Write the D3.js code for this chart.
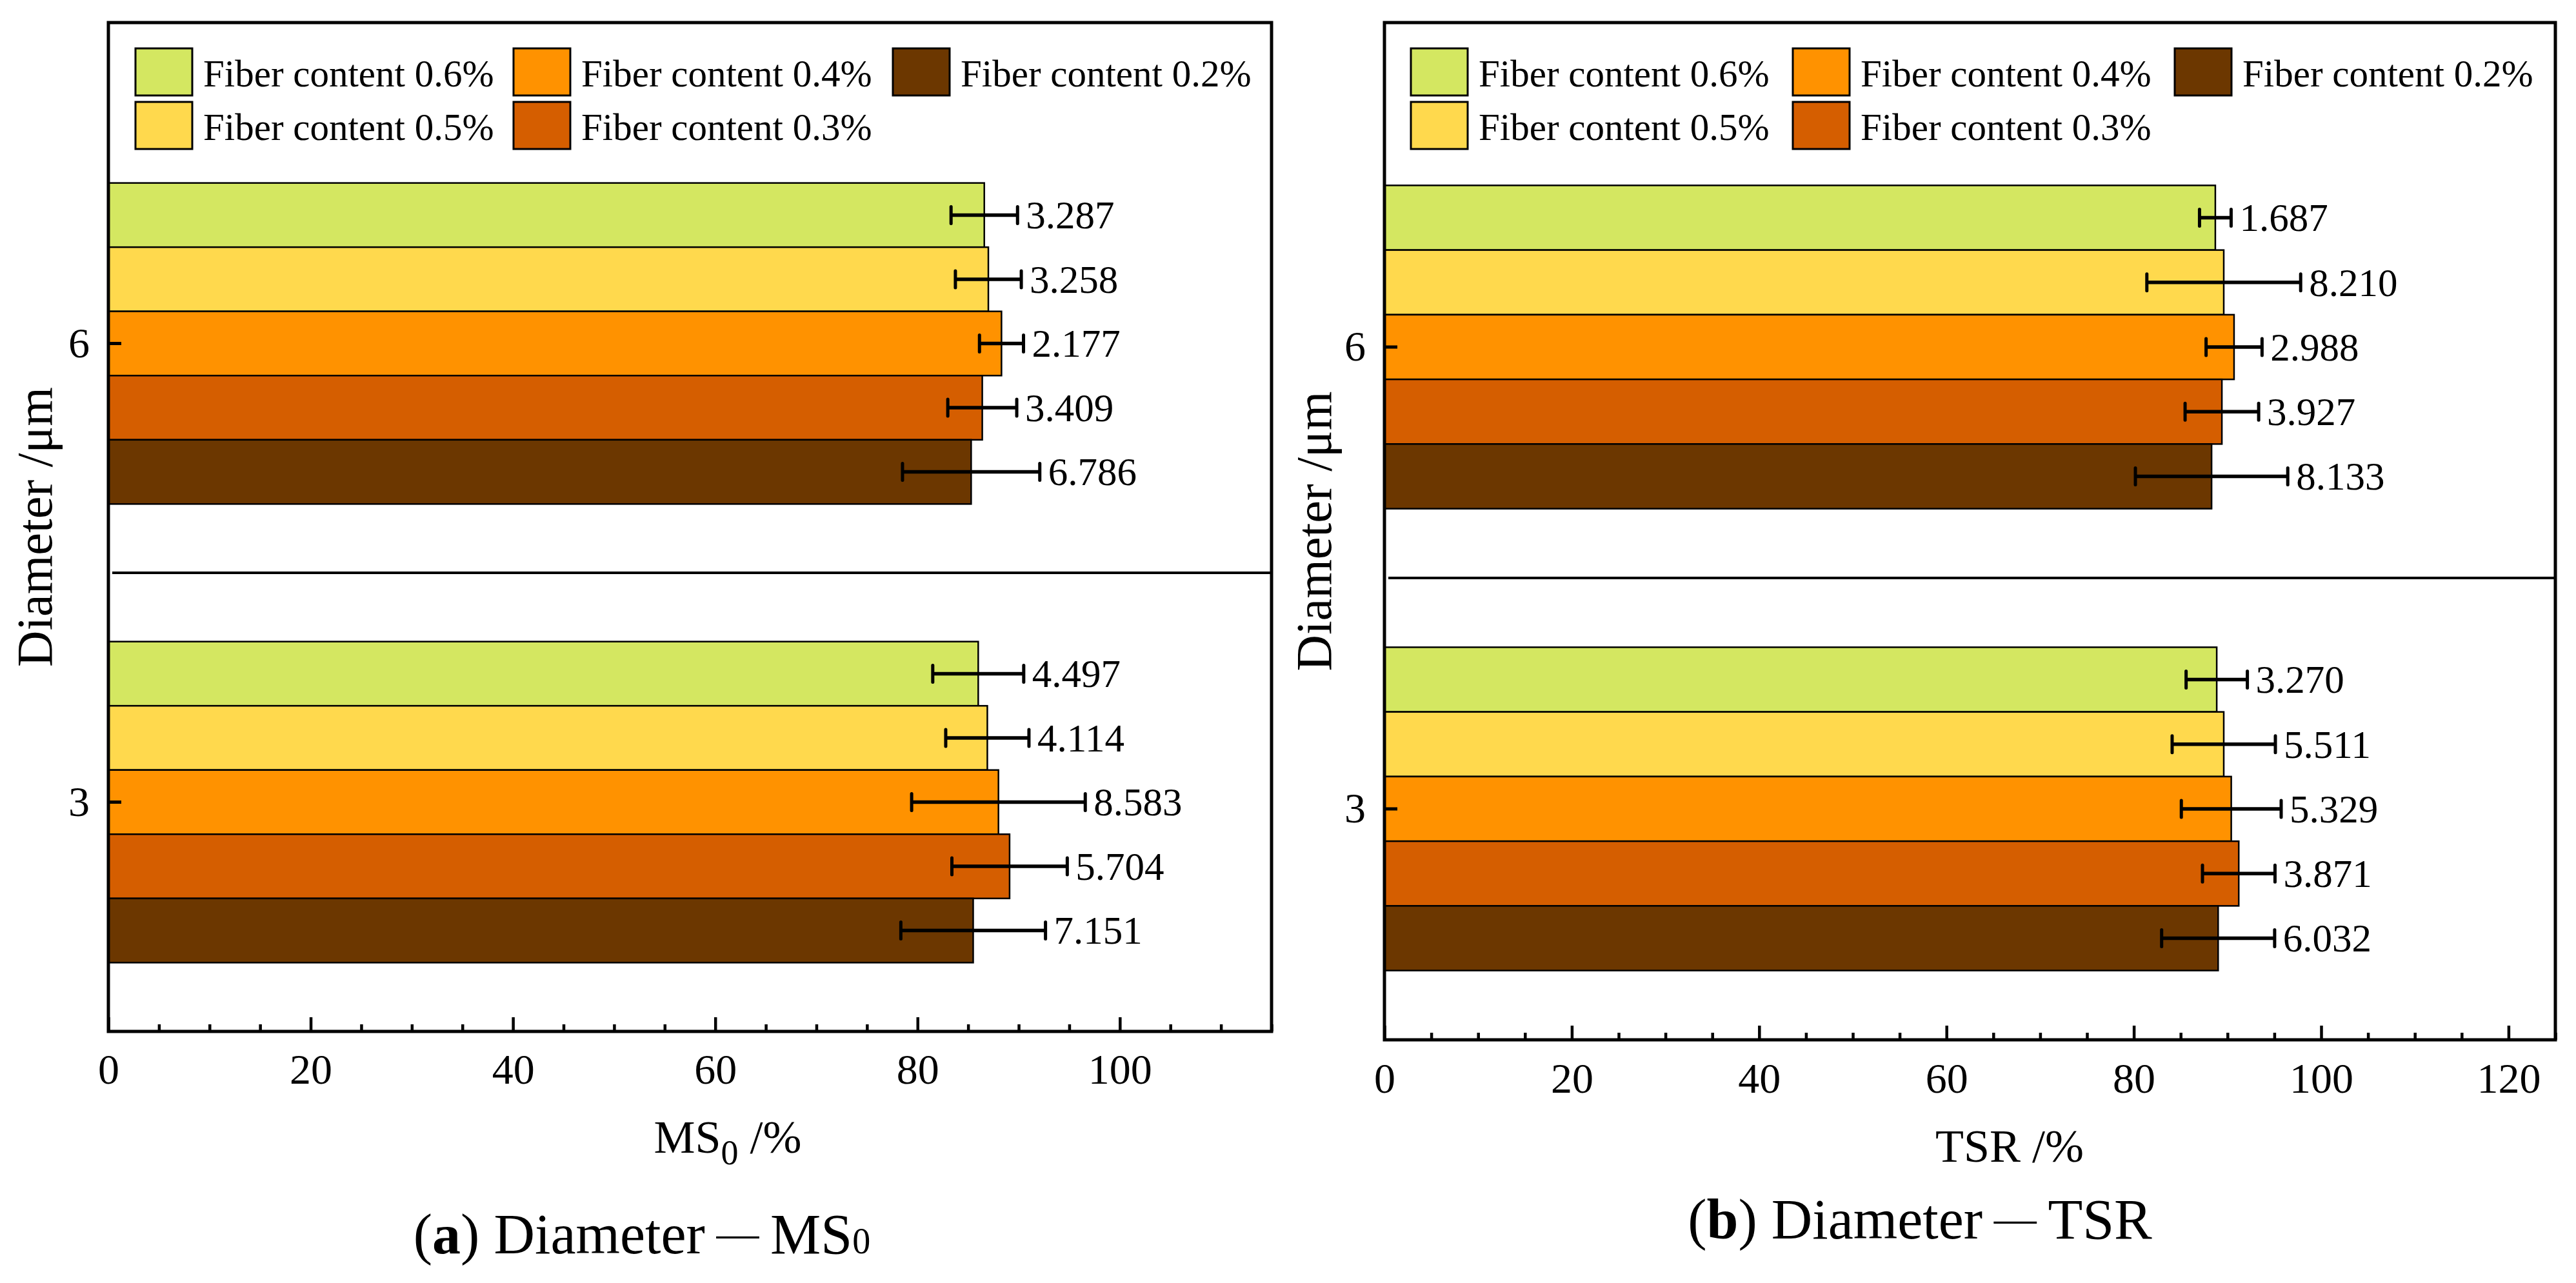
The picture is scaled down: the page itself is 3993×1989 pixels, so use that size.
<!DOCTYPE html>
<html>
<head>
<meta charset="utf-8">
<script src="https://cdn.jsdelivr.net/npm/d3@7"></script>
<style>
  body { margin: 0; background: #fff; }
  svg text { font-family: "Liberation Serif", "Times New Roman", serif; fill: #000; }
</style>
</head>
<body>
<svg id="chart" width="3993" height="1989"></svg>
<script>
const SERIF = '"Liberation Serif", "Times New Roman", serif';

// categories (top group first, like the picture)
const diameters = ["6", "3"];
const fiberLabels = [
  "Fiber content 0.6%",
  "Fiber content 0.5%",
  "Fiber content 0.4%",
  "Fiber content 0.3%",
  "Fiber content 0.2%",
];
const fiberColors = ["#d4e761", "#ffd94d", "#ff9200", "#d55e00", "#6c3700"];

// MS0 (%) means and std dev, per diameter
const ms0Mean6 = [86.6, 87.0, 88.3, 86.4, 85.3];
const ms0Sd6 = [3.287, 3.258, 2.177, 3.409, 6.786];
const ms0Mean3 = [86.0, 86.9, 88.0, 89.1, 85.5];
const ms0Sd3 = [4.497, 4.114, 8.583, 5.704, 7.151];

// TSR (%) means and std dev, per diameter
const tsrMean6 = [88.7, 89.6, 90.7, 89.4, 88.3];
const tsrSd6 = [1.687, 8.21, 2.988, 3.927, 8.133];
const tsrMean3 = [88.85, 89.6, 90.4, 91.2, 89.0];
const tsrSd3 = [3.27, 5.511, 5.329, 3.871, 6.032];

// tick labels
const ms0Ticks = [0, 20, 40, 60, 80, 100];
const tsrTicks = [0, 20, 40, 60, 80, 100, 120];

class BarPanel {
  /**
   * @param {Object} layout
   * @param {Object} data  means / sds keyed by diameter
   */
  constructor(_config, _data) {
    this.config = _config;
    this.data = _data;
    this.initVis();
  }

  initVis() {
    let vis = this;
    const c = vis.config;
    vis.svg = d3.select("#chart").append("g");

    vis.x = d3.scaleLinear().domain([0, c.xMax]).range([c.left, c.right]);

    // two category bands; the lower band ends at the axis, the boundary is the divider line
    const bandH = c.bottom - c.divider;
    vis.y = d3
      .scaleBand()
      .domain(diameters)
      .range([c.bottom - 2 * bandH, c.bottom]);

    vis.inner = d3
      .scaleBand()
      .domain(fiberLabels)
      .range([vis.y.bandwidth() * 0.15, vis.y.bandwidth() * 0.85]);

    vis.rows = [];
    diameters.forEach((d) => {
      fiberLabels.forEach((f, i) => {
        vis.rows.push({
          diam: d,
          fiber: f,
          color: fiberColors[i],
          mean: vis.data.mean[d][i],
          sd: vis.data.sd[d][i],
        });
      });
    });

    vis.renderVis();
  }

  renderVis() {
    let vis = this;
    const c = vis.config;
    const bh = vis.inner.bandwidth();
    const yc = (r) => vis.y(r.diam) + vis.inner(r.fiber) + bh / 2;

    // divider between the two diameter groups
    vis.svg
      .append("line")
      .attr("x1", c.left + 6)
      .attr("x2", c.right)
      .attr("y1", c.divider)
      .attr("y2", c.divider)
      .attr("stroke", "#000")
      .attr("stroke-width", 4);

    // bars
    vis.svg
      .selectAll("rect.bar")
      .data(vis.rows)
      .join("rect")
      .attr("class", "bar")
      .attr("x", vis.x(0))
      .attr("y", (d) => vis.y(d.diam) + vis.inner(d.fiber))
      .attr("width", (d) => vis.x(d.mean) - vis.x(0))
      .attr("height", bh)
      .attr("fill", (d) => d.color)
      .attr("stroke", "#000")
      .attr("stroke-width", 2.5);

    // error bars
    const err = vis.svg
      .selectAll("g.err")
      .data(vis.rows)
      .join("g")
      .attr("class", "err")
      .attr("stroke", "#000");
    err
      .append("line")
      .attr("x1", (d) => vis.x(d.mean - d.sd))
      .attr("x2", (d) => vis.x(d.mean + d.sd))
      .attr("y1", yc)
      .attr("y2", yc)
      .attr("stroke-width", 5.5);
    err
      .selectAll("line.cap")
      .data((d) => [
        { x: d.mean - d.sd, y: yc(d) },
        { x: d.mean + d.sd, y: yc(d) },
      ])
      .join("line")
      .attr("class", "cap")
      .attr("x1", (d) => vis.x(d.x))
      .attr("x2", (d) => vis.x(d.x))
      .attr("y1", (d) => d.y - 13)
      .attr("y2", (d) => d.y + 13)
      .attr("stroke-width", 5)
      .attr("stroke-linecap", "round");

    // sd value labels
    vis.svg
      .selectAll("text.val")
      .data(vis.rows)
      .join("text")
      .attr("class", "val")
      .attr("x", (d) => vis.x(d.mean + d.sd) + 13)
      .attr("y", yc)
      .attr("dy", "0.34em")
      .style("font-family", SERIF)
      .style("font-size", "61px")
      .text((d) => d.sd.toFixed(3));

    // x axis, major + minor ticks pointing in
    const xAxis = vis.svg
      .append("g")
      .attr("transform", `translate(0,${c.bottom})`)
      .call(
        d3
          .axisBottom(vis.x)
          .tickValues(c.ticks)
          .tickSizeInner(-22)
          .tickSizeOuter(0)
          .tickPadding(c.tickPad)
      )
      .attr("font-family", null);
    xAxis.select(".domain").remove();
    xAxis.selectAll(".tick line").attr("stroke-width", 4.5);
    xAxis
      .selectAll(".tick text")
      .style("font-family", SERIF)
      .style("font-size", "66px");

    const minor = d3.range(5, c.xMax + 1, 5).filter((v) => v % 20 !== 0);
    const xMinor = vis.svg
      .append("g")
      .attr("transform", `translate(0,${c.bottom})`)
      .call(
        d3
          .axisBottom(vis.x)
          .tickValues(minor)
          .tickSizeInner(-11)
          .tickSizeOuter(0)
          .tickFormat("")
      );
    xMinor.select(".domain").remove();
    xMinor.selectAll(".tick line").attr("stroke-width", 4.5);

    // y axis (category centres)
    const yAxis = vis.svg
      .append("g")
      .attr("transform", `translate(${c.left},0)`)
      .call(
        d3
          .axisLeft(vis.y)
          .tickSizeInner(-20)
          .tickSizeOuter(0)
          .tickPadding(29)
      )
      .attr("font-family", null);
    yAxis.select(".domain").remove();
    yAxis.selectAll(".tick line").attr("stroke-width", 5);
    yAxis
      .selectAll(".tick text")
      .style("font-family", SERIF)
      .style("font-size", "66px");

    // frame
    vis.svg
      .append("rect")
      .attr("x", c.left)
      .attr("y", c.top)
      .attr("width", c.right - c.left)
      .attr("height", c.bottom - c.top)
      .attr("fill", "none")
      .attr("stroke", "#000")
      .attr("stroke-width", 5);

    // legend: 2 rows, filled column by column
    const lg = vis.svg
      .selectAll("g.legend")
      .data(fiberLabels)
      .join("g")
      .attr("class", "legend")
      .attr("transform", (d, i) => {
        const col = Math.floor(i / 2);
        const row = i % 2;
        return `translate(${c.left + c.legendCols[col]},${75 + row * 83})`;
      });
    lg.append("rect")
      .attr("width", 88)
      .attr("height", 73)
      .attr("fill", (d, i) => fiberColors[i])
      .attr("stroke", "#000")
      .attr("stroke-width", 3);
    lg.append("text")
      .attr("x", 105)
      .attr("y", 59)
      .style("font-family", SERIF)
      .style("font-size", "59px")
      .text((d) => d);

    // axis titles
    vis.svg
      .append("text")
      .attr("transform", `translate(${c.yTitleX},${(c.top + c.bottom) / 2}) rotate(-90)`)
      .attr("text-anchor", "middle")
      .style("font-family", SERIF)
      .style("font-size", "78px")
      .text("Diameter /μm");

    const xt = vis.svg
      .append("text")
      .attr("x", c.xTitleX)
      .attr("y", c.xTitleY)
      .attr("text-anchor", "middle")
      .style("font-family", SERIF)
      .style("font-size", "72px");
    c.xTitle(xt);

    const cap = vis.svg
      .append("text")
      .attr("x", c.capX)
      .attr("y", c.capY)
      .attr("text-anchor", "middle")
      .style("font-family", SERIF)
      .style("font-size", "88px");
    c.caption(cap);
  }
}

// caption helper: "(x) Diameter — ..." with a short raised dash and small gaps
function captionStart(t, letter) {
  t.append("tspan").text("(");
  t.append("tspan").attr("font-weight", "bold").text(letter);
  t.append("tspan").text(") Diameter\u2009");
  t.append("tspan").attr("dy", -9).style("font-size", "66px").text("\u2014");
  t.append("tspan").attr("dy", 9).text("\u2009");
}

new BarPanel(
  {
    left: 168,
    right: 1971,
    top: 35,
    bottom: 1599,
    divider: 888,
    xMax: 115,
    ticks: ms0Ticks,
    tickPad: 34,
    legendCols: [42, 628, 1216],
    yTitleX: 80,
    xTitleX: 1128,
    xTitleY: 1787,
    capX: 995,
    capY: 1943,
    xTitle: (t) => {
      t.append("tspan").text("MS");
      t.append("tspan").attr("dy", 18).style("font-size", "54px").text("0");
      t.append("tspan").attr("dy", -18).text(" /%");
    },
    caption: (t) => {
      captionStart(t, "a");
      t.append("tspan").text("MS");
      t.append("tspan").style("font-size", "56px").text("0");
    },
  },
  {
    mean: { 6: ms0Mean6, 3: ms0Mean3 },
    sd: { 6: ms0Sd6, 3: ms0Sd3 },
  }
);

new BarPanel(
  {
    left: 2146,
    right: 3961,
    top: 35,
    bottom: 1612,
    divider: 896,
    xMax: 125,
    ticks: tsrTicks,
    tickPad: 35,
    legendCols: [41, 633, 1225],
    yTitleX: 2063,
    xTitleX: 3115,
    xTitleY: 1801,
    capX: 2976,
    capY: 1920,
    xTitle: (t) => {
      t.text("TSR /%");
    },
    caption: (t) => {
      captionStart(t, "b");
      t.append("tspan").text("TSR");
    },
  },
  {
    mean: { 6: tsrMean6, 3: tsrMean3 },
    sd: { 6: tsrSd6, 3: tsrSd3 },
  }
);
</script>
</body>
</html>
